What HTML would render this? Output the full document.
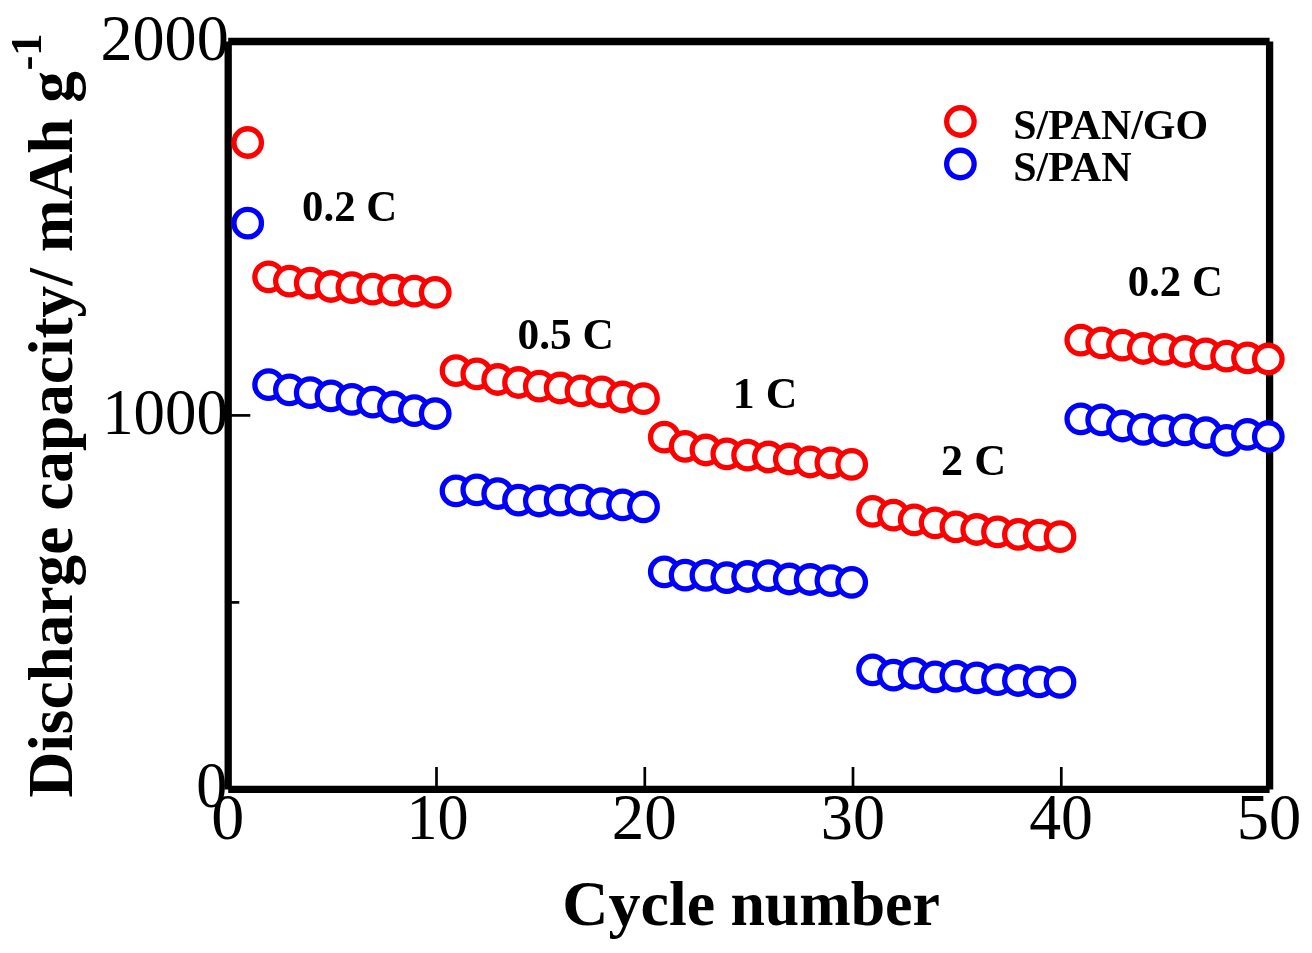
<!DOCTYPE html>
<html><head><meta charset="utf-8"><title>Rate capability</title>
<style>
html,body{margin:0;padding:0;background:#fff;}
body{width:1312px;height:953px;overflow:hidden;}
svg{display:block;will-change:transform;}
text{font-family:"Liberation Serif",serif;fill:#000;}
.b{font-weight:bold;}
</style></head><body>
<svg width="1312" height="953" viewBox="0 0 1312 953">
<rect x="0" y="0" width="1312" height="953" fill="#fff"/>
<g stroke="#000" stroke-width="7.3" stroke-linecap="butt" fill="none">
<line x1="228.2" y1="41.5" x2="228.2" y2="789.4"/>
<line x1="1269.6" y1="41.5" x2="1269.6" y2="789.4"/>
<line x1="228.2" y1="41.5" x2="1269.6" y2="41.5"/>
<line x1="228.2" y1="789.4" x2="1269.6" y2="789.4"/>
</g>
<g stroke="#000" stroke-width="2.7" stroke-linecap="butt">
<line x1="228.2" y1="415.4" x2="250.3" y2="415.4"/>
<line x1="228.2" y1="602.4" x2="239.3" y2="602.4"/>
<line x1="436.5" y1="789.4" x2="436.5" y2="767"/>
<line x1="644.8" y1="789.4" x2="644.8" y2="767"/>
<line x1="853.0" y1="789.4" x2="853.0" y2="767"/>
<line x1="1061.3" y1="789.4" x2="1061.3" y2="767"/>
</g>
<text id="t2000" transform="translate(100.46,59.5) scale(0.9947,1)" font-size="64.5">2000</text>
<text id="t1000" transform="translate(102.14,433.5) scale(0.9744,1)" font-size="64.5">1000</text>
<text id="ty0" transform="translate(196.20,807.4) scale(0.9615,1)" font-size="64.5">0</text>
<text id="tx0" transform="translate(211.24,839.3) scale(1.0239,1)" font-size="64.5">0</text>
<text id="tx10" transform="translate(406.46,839.3) scale(0.9636,1)" font-size="64.5">10</text>
<text id="tx20" transform="translate(611.72,839.3) scale(1.0093,1)" font-size="64.5">20</text>
<text id="tx30" transform="translate(820.82,839.3) scale(0.9949,1)" font-size="64.5">30</text>
<text id="tx40" transform="translate(1029.17,839.3) scale(0.9877,1)" font-size="64.5">40</text>
<text id="tx50" transform="translate(1236.85,839.3) scale(1.0009,1)" font-size="64.5">50</text>
<text id="xt1" class="b" transform="translate(562.35,924.7) scale(1.0161,1)" font-size="63">Cycle</text>
<text id="xt2" class="b" transform="translate(730.48,924.7) scale(0.9815,1)" font-size="63">number</text>
<text class="b" id="yt" transform="translate(72.0,797.5) rotate(-90) scale(0.9975,1)" font-size="63.5">Discharge capacity/ mAh g<tspan font-size="45" dy="-31.4" dx="0.5">-1</tspan></text>
<text id="l1" class="b" transform="translate(302.12,220.9) scale(0.9585,1)" font-size="44.6">0.2 C</text>
<text id="l2" class="b" transform="translate(517.60,348.9) scale(0.9723,1)" font-size="44.6">0.5 C</text>
<text id="l3" class="b" transform="translate(732.87,408.0) scale(0.9804,1)" font-size="44.6">1 C</text>
<text id="l4" class="b" transform="translate(941.07,475.1) scale(0.9901,1)" font-size="44.6">2 C</text>
<text id="l5" class="b" transform="translate(1127.82,295.5) scale(0.9585,1)" font-size="44.6">0.2 C</text>
<text id="lg1" class="b" transform="translate(1013.19,138.5) scale(0.982,1)" font-size="42.7">S/PAN/GO</text>
<text id="lg2" class="b" transform="translate(1013.18,180.6) scale(0.9851,1)" font-size="42.7">S/PAN</text>
<g fill="#fff" stroke-width="5.3">
<circle cx="960.4" cy="121.5" r="13.75" stroke="#f00"/>
<circle cx="960.4" cy="164.0" r="13.75" stroke="#00f"/>
</g>
<g fill="#fff" stroke="#00f" stroke-width="5.3">
<circle cx="247.7" cy="223.2" r="13.75"/>
<circle cx="268.6" cy="384.7" r="13.75"/>
<circle cx="289.4" cy="389.8" r="13.75"/>
<circle cx="310.2" cy="392.7" r="13.75"/>
<circle cx="331.0" cy="395.8" r="13.75"/>
<circle cx="351.9" cy="399.3" r="13.75"/>
<circle cx="372.7" cy="402.2" r="13.75"/>
<circle cx="393.5" cy="407.0" r="13.75"/>
<circle cx="414.4" cy="410.7" r="13.75"/>
<circle cx="435.2" cy="413.6" r="13.75"/>
<circle cx="456.0" cy="490.9" r="13.75"/>
<circle cx="476.8" cy="489.8" r="13.75"/>
<circle cx="497.7" cy="493.6" r="13.75"/>
<circle cx="518.5" cy="500.2" r="13.75"/>
<circle cx="539.3" cy="501.0" r="13.75"/>
<circle cx="560.1" cy="500.2" r="13.75"/>
<circle cx="581.0" cy="500.2" r="13.75"/>
<circle cx="601.8" cy="503.6" r="13.75"/>
<circle cx="622.6" cy="504.9" r="13.75"/>
<circle cx="643.5" cy="506.9" r="13.75"/>
<circle cx="664.3" cy="571.9" r="13.75"/>
<circle cx="685.1" cy="575.2" r="13.75"/>
<circle cx="705.9" cy="575.3" r="13.75"/>
<circle cx="726.8" cy="577.6" r="13.75"/>
<circle cx="747.6" cy="576.5" r="13.75"/>
<circle cx="768.4" cy="575.6" r="13.75"/>
<circle cx="789.3" cy="579.0" r="13.75"/>
<circle cx="810.1" cy="579.5" r="13.75"/>
<circle cx="830.9" cy="580.7" r="13.75"/>
<circle cx="851.7" cy="582.3" r="13.75"/>
<circle cx="872.6" cy="669.8" r="13.75"/>
<circle cx="893.4" cy="675.1" r="13.75"/>
<circle cx="914.2" cy="673.3" r="13.75"/>
<circle cx="935.1" cy="676.8" r="13.75"/>
<circle cx="955.9" cy="676.1" r="13.75"/>
<circle cx="976.7" cy="677.8" r="13.75"/>
<circle cx="997.5" cy="679.7" r="13.75"/>
<circle cx="1018.4" cy="680.5" r="13.75"/>
<circle cx="1039.2" cy="681.8" r="13.75"/>
<circle cx="1060.0" cy="682.3" r="13.75"/>
<circle cx="1080.8" cy="418.9" r="13.75"/>
<circle cx="1101.7" cy="419.8" r="13.75"/>
<circle cx="1122.5" cy="426.0" r="13.75"/>
<circle cx="1143.3" cy="429.3" r="13.75"/>
<circle cx="1164.2" cy="430.7" r="13.75"/>
<circle cx="1185.0" cy="429.8" r="13.75"/>
<circle cx="1205.8" cy="432.7" r="13.75"/>
<circle cx="1226.6" cy="440.4" r="13.75"/>
<circle cx="1247.5" cy="434.3" r="13.75"/>
<circle cx="1268.3" cy="436.5" r="13.75"/>
</g>
<g fill="#fff" stroke="#f00" stroke-width="5.3">
<circle cx="247.7" cy="142.5" r="13.75"/>
<circle cx="268.6" cy="276.9" r="13.75"/>
<circle cx="289.4" cy="281.1" r="13.75"/>
<circle cx="310.2" cy="283.1" r="13.75"/>
<circle cx="331.0" cy="286.5" r="13.75"/>
<circle cx="351.9" cy="287.7" r="13.75"/>
<circle cx="372.7" cy="289.2" r="13.75"/>
<circle cx="393.5" cy="290.2" r="13.75"/>
<circle cx="414.4" cy="291.1" r="13.75"/>
<circle cx="435.2" cy="292.3" r="13.75"/>
<circle cx="456.0" cy="370.6" r="13.75"/>
<circle cx="476.8" cy="373.9" r="13.75"/>
<circle cx="497.7" cy="379.5" r="13.75"/>
<circle cx="518.5" cy="382.5" r="13.75"/>
<circle cx="539.3" cy="386.2" r="13.75"/>
<circle cx="560.1" cy="388.0" r="13.75"/>
<circle cx="581.0" cy="390.9" r="13.75"/>
<circle cx="601.8" cy="391.9" r="13.75"/>
<circle cx="622.6" cy="397.0" r="13.75"/>
<circle cx="643.5" cy="398.6" r="13.75"/>
<circle cx="664.3" cy="437.2" r="13.75"/>
<circle cx="685.1" cy="446.3" r="13.75"/>
<circle cx="705.9" cy="450.0" r="13.75"/>
<circle cx="726.8" cy="453.8" r="13.75"/>
<circle cx="747.6" cy="455.2" r="13.75"/>
<circle cx="768.4" cy="457.0" r="13.75"/>
<circle cx="789.3" cy="459.0" r="13.75"/>
<circle cx="810.1" cy="462.0" r="13.75"/>
<circle cx="830.9" cy="462.9" r="13.75"/>
<circle cx="851.7" cy="464.4" r="13.75"/>
<circle cx="872.6" cy="511.4" r="13.75"/>
<circle cx="893.4" cy="515.1" r="13.75"/>
<circle cx="914.2" cy="519.8" r="13.75"/>
<circle cx="935.1" cy="522.8" r="13.75"/>
<circle cx="955.9" cy="526.9" r="13.75"/>
<circle cx="976.7" cy="529.5" r="13.75"/>
<circle cx="997.5" cy="531.9" r="13.75"/>
<circle cx="1018.4" cy="534.4" r="13.75"/>
<circle cx="1039.2" cy="535.2" r="13.75"/>
<circle cx="1060.0" cy="536.6" r="13.75"/>
<circle cx="1080.8" cy="340.1" r="13.75"/>
<circle cx="1101.7" cy="342.8" r="13.75"/>
<circle cx="1122.5" cy="345.1" r="13.75"/>
<circle cx="1143.3" cy="348.5" r="13.75"/>
<circle cx="1164.2" cy="349.3" r="13.75"/>
<circle cx="1185.0" cy="351.5" r="13.75"/>
<circle cx="1205.8" cy="353.8" r="13.75"/>
<circle cx="1226.6" cy="356.2" r="13.75"/>
<circle cx="1247.5" cy="357.8" r="13.75"/>
<circle cx="1268.3" cy="359.0" r="13.75"/>
</g>
</svg>
</body></html>
